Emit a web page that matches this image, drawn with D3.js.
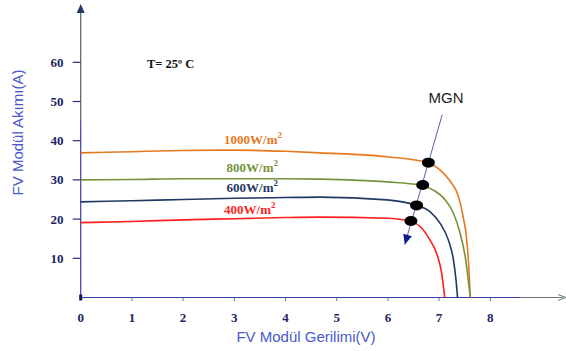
<!DOCTYPE html>
<meta charset="utf-8" />
<script src="https://d3js.org/d3.v7.min.js"></script>
<style>
  body { margin: 0; background: #fff; }
</style>
<svg id="chart" width="566" height="351"></svg>
<script>
  // curve data: [voltage V, current A]
  var irr1000 = [[0, 36.9], [1, 37.2], [2, 37.5], [3, 37.6], [4, 37.3], [4.67, 36.9], [5.98, 35.9], [6.79, 34.4], [7.02, 32.5], [7.21, 29.8], [7.38, 25.7], [7.47, 20.6], [7.54, 14.7], [7.58, 7.9], [7.61, 0]];
  var irr800 = [[0, 30.0], [1, 30.1], [2, 30.3], [3, 30.3], [4, 30.3], [4.67, 30.2], [5.98, 29.5], [6.63, 28.7], [6.89, 27.4], [7.12, 24.9], [7.28, 21.5], [7.41, 16.4], [7.51, 10.4], [7.57, 4.5], [7.61, 0]];
  var irr600 = [[0, 24.4], [1, 24.7], [2, 25.0], [3, 25.3], [4, 25.5], [4.67, 25.6], [5.98, 24.9], [6.56, 23.5], [6.82, 21.9], [7.02, 18.9], [7.18, 14.7], [7.28, 9.6], [7.33, 4.5], [7.36, 0]];
  var irr400 = [[0, 19.1], [1, 19.4], [2, 19.8], [3, 20.1], [4, 20.4], [4.67, 20.5], [5.98, 20.2], [6.43, 19.5], [6.63, 18.1], [6.82, 14.7], [6.95, 11.3], [7.05, 6.2], [7.11, 0]];

  var labels = ["1000W/m", "800W/m", "600W/m", "400W/m"];
  var colors = ["#e8781e", "#76923c", "#1f3864", "#ff1f1f"];
  var labelPos = [[2.8, 39.2], [2.85, 31.9], [2.85, 26.8], [2.8, 21.3]];

  // maximum power points
  var mpp = [[6.79, 34.4], [6.68, 28.7], [6.56, 23.5], [6.45, 19.5]];
  var mgnArrow = [[7.06, 46.6], [6.33, 13.5]];

  var xTicks = [0, 1, 2, 3, 4, 5, 6, 7, 8];
  var yTicks = [10, 20, 30, 40, 50, 60];

  var svg = d3.select("#chart");

  var x = d3.scaleLinear().domain([0, 8]).range([80.7, 490.3]);
  var y = d3.scaleLinear().domain([0, 60]).range([297.5, 62.3]);

  var axisColor = "#3b3ba8";
  var tickText = "#1c2266";

  // y axis line with arrow
  svg.append("line")
    .attr("x1", x(0)).attr("x2", x(0))
    .attr("y1", y(0)).attr("y2", y(45))
    .attr("stroke", axisColor).attr("stroke-width", 1.2);
  svg.append("line")
    .attr("x1", x(0)).attr("x2", x(0))
    .attr("y1", y(45)).attr("y2", 12)
    .attr("stroke", "#5a6070").attr("stroke-width", 1.2);
  svg.append("path")
    .attr("d", d3.line()([[x(0) - 4, 13], [x(0), 4], [x(0) + 4, 13]]))
    .attr("fill", "#1f3864");

  // x axis line with arrow
  svg.append("line")
    .attr("x1", x(0)).attr("x2", 520)
    .attr("y1", y(0)).attr("y2", y(0))
    .attr("stroke", axisColor).attr("stroke-width", 1.2);
  svg.append("line")
    .attr("x1", 520).attr("x2", 563)
    .attr("y1", y(0)).attr("y2", y(0))
    .attr("stroke", "#6b7a78").attr("stroke-width", 1.2);
  svg.append("path")
    .attr("d", d3.line()([[558, y(0) - 3], [566, y(0)], [558, y(0) + 3]]))
    .attr("fill", "none").attr("stroke", "#6b7a78").attr("stroke-width", 1);

  // origin blob
  svg.append("rect")
    .attr("x", x(0) - 1.5).attr("y", y(0) - 3)
    .attr("width", 3).attr("height", 6)
    .attr("fill", "#0b1a5a");

  // ticks
  svg.selectAll(".xtick").data(xTicks.slice(1)).enter().append("line")
    .attr("x1", function(d) { return x(d); }).attr("x2", function(d) { return x(d); })
    .attr("y1", y(0)).attr("y2", y(0) + 3.5)
    .attr("stroke", "#6a74c0").attr("stroke-width", 1);
  svg.selectAll(".ytick").data(yTicks).enter().append("line")
    .attr("x1", x(0) - 8).attr("x2", x(0))
    .attr("y1", function(d) { return y(d); }).attr("y2", function(d) { return y(d); })
    .attr("stroke", "#2a2a8a").attr("stroke-width", 1.2);

  svg.selectAll(".xlab").data(xTicks).enter().append("text")
    .attr("x", function(d) { return x(d); })
    .attr("y", 322)
    .attr("text-anchor", "middle")
    .attr("font-family", "Liberation Serif, serif")
    .attr("font-weight", "bold")
    .attr("font-size", 13)
    .attr("fill", tickText)
    .text(function(d) { return d; });
  svg.selectAll(".ylab").data(yTicks).enter().append("text")
    .attr("x", 63.5)
    .attr("y", function(d) { return y(d) + 4.5; })
    .attr("text-anchor", "end")
    .attr("font-family", "Liberation Serif, serif")
    .attr("font-weight", "bold")
    .attr("font-size", 13)
    .attr("fill", tickText)
    .text(function(d) { return d; });

  // axis titles
  svg.append("text")
    .attr("x", 306).attr("y", 342)
    .attr("text-anchor", "middle")
    .attr("font-family", "Liberation Sans, Arial, sans-serif")
    .attr("font-size", 15)
    .attr("fill", "#4a58cc")
    .text("FV Modül Gerilimi(V)");
  svg.append("text")
    .attr("transform", "translate(23,132.5) rotate(-90)")
    .attr("text-anchor", "middle")
    .attr("font-family", "Liberation Sans, Arial, sans-serif")
    .attr("font-size", 15)
    .attr("fill", "#4a58cc")
    .text("FV Modül Akımı(A)");

  svg.append("text")
    .attr("x", 147).attr("y", 68)
    .attr("font-family", "Liberation Serif, serif")
    .attr("font-weight", "bold")
    .attr("font-size", 12.5)
    .attr("fill", "#111")
    .text("T= 25º C");

  // curves
  var line = d3.line()
    .x(function(d) { return x(d[0]); })
    .y(function(d) { return y(d[1]); })
    .curve(d3.curveMonotoneX);

  var series = [irr1000, irr800, irr600, irr400];
  svg.selectAll(".curve").data(series).enter().append("path")
    .attr("d", line)
    .attr("fill", "none")
    .attr("stroke", function(d, i) { return colors[i]; })
    .attr("stroke-width", 1.6);

  // curve labels
  var lab = svg.selectAll(".clab").data(labels).enter().append("text")
    .attr("x", function(d, i) { return x(labelPos[i][0]); })
    .attr("y", function(d, i) { return y(labelPos[i][1]); })
    .attr("font-family", "Liberation Serif, serif")
    .attr("font-weight", "bold")
    .attr("font-size", 13)
    .attr("fill", function(d, i) { return colors[i]; });
  lab.append("tspan").text(function(d) { return d; });
  lab.append("tspan").attr("dy", -6).attr("font-size", 9).text("2");

  // MGN arrow line
  svg.append("line")
    .attr("x1", x(mgnArrow[0][0])).attr("y1", y(mgnArrow[0][1]))
    .attr("x2", x(mgnArrow[1][0])).attr("y2", y(mgnArrow[1][1]))
    .attr("stroke", "#5560b0").attr("stroke-width", 1);
  (function() {
    var x1 = x(mgnArrow[0][0]), y1 = y(mgnArrow[0][1]);
    var x2 = x(mgnArrow[1][0]), y2 = y(mgnArrow[1][1]);
    var a = Math.atan2(y2 - y1, x2 - x1);
    var len = 10, w = 4.5;
    var bx = x2 - len * Math.cos(a), by = y2 - len * Math.sin(a);
    var px = -Math.sin(a) * w, py = Math.cos(a) * w;
    svg.append("path")
      .attr("d", d3.line()([[x2, y2], [bx + px, by + py], [bx - px, by - py]]) + "Z")
      .attr("fill", "#0d1a8a");
  })();

  svg.selectAll(".mpp").data(mpp).enter().append("ellipse")
    .attr("cx", function(d) { return x(d[0]); })
    .attr("cy", function(d) { return y(d[1]); })
    .attr("rx", 6.5).attr("ry", 5)
    .attr("fill", "#000");

  svg.append("text")
    .attr("x", 446).attr("y", 103)
    .attr("text-anchor", "middle")
    .attr("font-family", "Liberation Sans, Arial, sans-serif")
    .attr("font-size", 15)
    .attr("fill", "#222")
    .text("MGN");
</script>
